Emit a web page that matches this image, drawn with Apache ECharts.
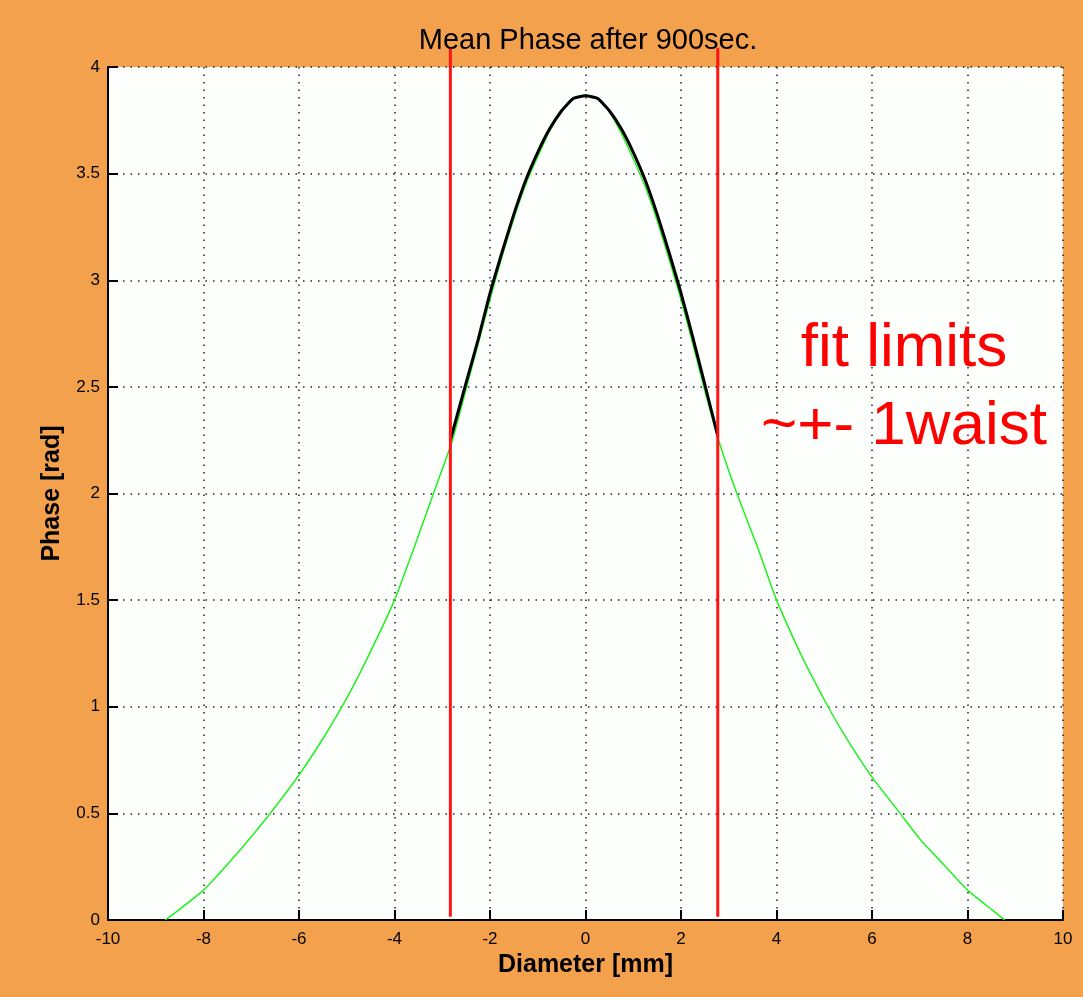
<!DOCTYPE html>
<html>
<head>
<meta charset="utf-8">
<script src="https://cdn.jsdelivr.net/npm/echarts@6/dist/echarts.min.js"></script>
<style>
html,body{margin:0;padding:0;background:#F3A14D;}
#chart{width:1083px;height:997px;}
</style>
</head>
<body>
<div id="chart"></div>
<script>
// ---- data ----
const titleText = 'Mean Phase after 900sec.';
const xAxisName = 'Diameter [mm]';
const yAxisName = 'Phase [rad]';
const xMin = -10, xMax = 10, xStep = 2;
const yMin = 0, yMax = 4, yStep = 0.5;

// measured mean phase (green)
const phaseX = [-8.8, -8.5, -8, -7.5, -7, -6.5, -6, -5.5, -5, -4.5, -4, -3.6, -3.2, -2.8, -2.5, -2.25, -2, -1.75, -1.5, -1.25, -1, -0.75, -0.5, -0.25, 0, 0.25, 0.5, 0.75, 1, 1.25, 1.5, 1.75, 2, 2.25, 2.5, 2.8, 3.17, 3.6, 4, 4.5, 5.08, 5.5, 6, 6.59, 7, 7.5, 8, 8.5, 8.78];
const phaseY = [0, 0.05, 0.14, 0.26, 0.39, 0.53, 0.68, 0.85, 1.04, 1.26, 1.50, 1.74, 1.99, 2.24, 2.49, 2.70, 2.91, 3.11, 3.29, 3.45, 3.58, 3.70, 3.79, 3.85, 3.87, 3.85, 3.79, 3.69, 3.57, 3.44, 3.28, 3.10, 2.91, 2.70, 2.48, 2.24, 2.00, 1.75, 1.50, 1.25, 1.00, 0.84, 0.67, 0.50, 0.38, 0.26, 0.14, 0.05, 0];

// fitted curve (black)
const fitX = [-2.83, -2.5, -2.25, -2, -1.75, -1.5, -1.25, -1, -0.75, -0.5, -0.25, 0, 0.25, 0.5, 0.75, 1, 1.25, 1.5, 1.75, 2, 2.25, 2.5, 2.77];
const fitY = [2.25, 2.52, 2.72, 2.94, 3.13, 3.31, 3.47, 3.60, 3.71, 3.795, 3.853, 3.865, 3.853, 3.795, 3.71, 3.60, 3.47, 3.31, 3.13, 2.94, 2.73, 2.51, 2.27];

// fit limits (red vertical lines)
const limitX = [-2.83, 2.77];
const limitYRange = [0.015, 4.09];

const annotationLines = ['fit limits', '~+- 1waist'];

// ---- build ----
const zip = (xs, ys) => xs.map((x, i) => [x, ys[i]]);
const FONT = '"Liberation Sans", Arial, Helvetica, sans-serif';

const limitSeries = limitX.map((x, i) => ({
  type: 'line', name: 'limit' + i,
  data: limitYRange.map(y => [x, y]),
  clip: false, symbol: 'none', z: 5,
  lineStyle: {color: '#FF1414', width: 3},
  silent: true
}));

const chart = echarts.init(document.getElementById('chart'), null, {renderer: 'canvas'});
chart.setOption({
  backgroundColor: '#F3A14D',
  animation: false,
  title: {
    text: titleText, left: 583, top: 21, textAlign: 'center',
    textStyle: {fontFamily: FONT, fontSize: 29, fontWeight: 'normal', color: '#000'}
  },
  grid: {left: 108, right: 20, top: 67, bottom: 77, show: true, backgroundColor: '#FDFFFD', borderWidth: 0},
  xAxis: {
    type: 'value', min: xMin, max: xMax, interval: xStep,
    name: xAxisName, nameLocation: 'middle', nameGap: 30,
    nameTextStyle: {fontFamily: FONT, fontSize: 25, fontWeight: 'bold', color: '#000'},
    axisLine: {show: true, onZero: false, lineStyle: {color: '#000', width: 2}},
    axisTick: {show: true, inside: true, length: 10, lineStyle: {color: '#000', width: 2}},
    axisLabel: {fontFamily: FONT, fontSize: 17, color: '#000', margin: 11},
    splitLine: {show: true, lineStyle: {color: '#222', width: 1.5, type: [1.5, 6]}}
  },
  yAxis: {
    type: 'value', min: yMin, max: yMax, interval: yStep,
    name: yAxisName, nameLocation: 'middle', nameGap: 43, nameRotate: 90,
    nameTextStyle: {fontFamily: FONT, fontSize: 25, fontWeight: 'bold', color: '#000'},
    axisLine: {show: true, onZero: false, lineStyle: {color: '#000', width: 2}},
    axisTick: {show: true, inside: true, length: 10, lineStyle: {color: '#000', width: 2}},
    axisLabel: {fontFamily: FONT, fontSize: 17, color: '#000', margin: 8},
    splitLine: {show: true, lineStyle: {color: '#222', width: 1.5, type: [1.5, 6]}}
  },
  graphic: annotationLines.map((t, i) => ({
    type: 'text', x: 904, y: 349 + i * 78, z: 10,
    style: {text: t, fill: '#FF0000', font: '62px ' + FONT, align: 'center', verticalAlign: 'middle'}
  })),
  series: [
    {type: 'line', name: 'phase', data: zip(phaseX, phaseY), symbol: 'none', smooth: 0.15, z: 2,
     lineStyle: {color: '#22F022', width: 1.5}},
    {type: 'line', name: 'fit', data: zip(fitX, fitY), symbol: 'none', smooth: 0.15, z: 3,
     lineStyle: {color: '#000', width: 3}}
  ].concat(limitSeries)
});
</script>
</body>
</html>
